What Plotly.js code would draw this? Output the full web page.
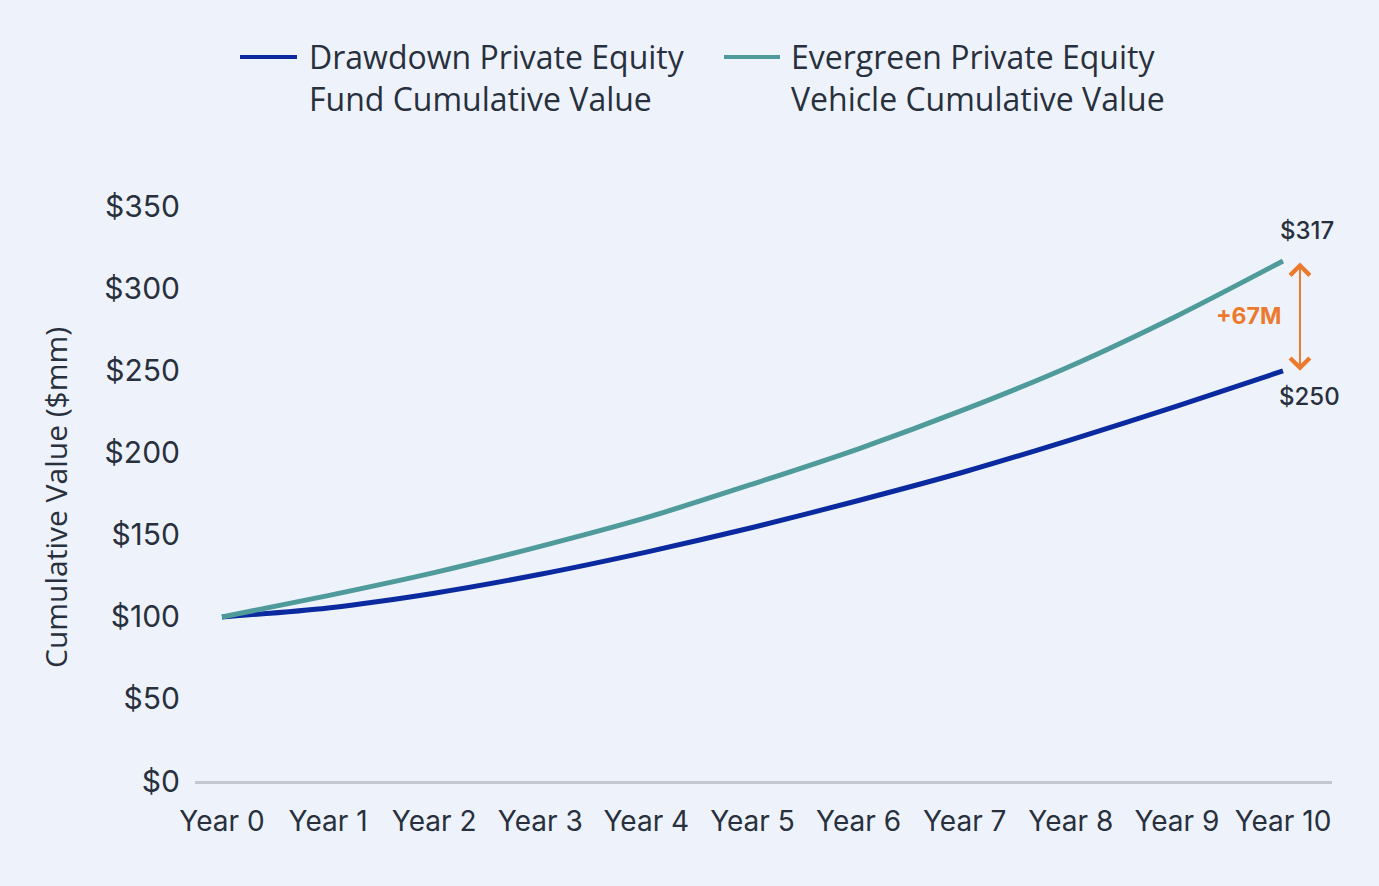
<!DOCTYPE html>
<html>
<head>
<meta charset="utf-8">
<script src="https://cdn.plot.ly/plotly-3.0.1.min.js"></script>
<style>
  html, body { margin: 0; padding: 0; background: #eef3fb; }
  #chart { width: 1379px; height: 886px; }
</style>
</head>
<body>
<div id="chart"></div>
<script>
// ── data ──────────────────────────────────────
const years = ['Year 0', 'Year 1', 'Year 2', 'Year 3', 'Year 4', 'Year 5',
               'Year 6', 'Year 7', 'Year 8', 'Year 9', 'Year 10'];
const drawdown = [100, 105.5, 114.5, 126, 139.5, 154.5, 171, 188.5, 208, 228.5, 250];
const evergreen = [100, 113, 127, 143, 160.5, 181, 202.5, 226.5, 253, 283.5, 317];
const seriesNames = [
    'Drawdown Private Equity<br>Fund Cumulative Value',
    'Evergreen Private Equity<br>Vehicle Cumulative Value',
];
const yTicks = [0, 50, 100, 150, 200, 250, 300, 350];

const COLORS = { blue: '#0b2a9f', teal: '#4f9b9b', orange: '#ec7a2e', text: '#28303d', axis: '#c3c7cf', bg: '#eef3fb' };
const idx = years.map((_, i) => i);
const last = years.length - 1;

const traces = [
    { x: idx, y: drawdown, name: seriesNames[0], type: 'scatter', mode: 'lines',
      line: { color: COLORS.blue, width: 5, shape: 'spline', smoothing: 0.8 } },
    { x: idx, y: evergreen, name: seriesNames[1], type: 'scatter', mode: 'lines',
      line: { color: COLORS.teal, width: 5, shape: 'spline', smoothing: 0.8 } },
];

// plot box in px (used for the hand-built legend and axis title)
const L = 195, R = 47, T = 174, B = 105, W = 1379, H = 886;
const px = x => (x - L) / (W - L - R);
const py = y => (H - B - y) / (H - B - T);

const legendItems = [
    { x0: 240, x1: 297, tx: 307, color: COLORS.blue, text: seriesNames[0] },
    { x0: 724, x1: 780, tx: 789, color: COLORS.teal, text: seriesNames[1] },
];

const shapes = legendItems.map(it => ({
    type: 'line', xref: 'paper', yref: 'paper',
    x0: px(it.x0), x1: px(it.x1), y0: py(57), y1: py(57),
    line: { color: it.color, width: 4 },
}));

const annotations = legendItems.map(it => ({
    xref: 'paper', yref: 'paper', x: px(it.tx), y: py(77), xanchor: 'left', yanchor: 'middle',
    align: 'left', showarrow: false, text: it.text,
    font: { family: 'Open Sans, sans-serif', size: 32, color: COLORS.text },
}));

// y axis title, placed by hand so it sits where the reference has it
annotations.push({
    xref: 'paper', yref: 'paper', x: px(55), y: py(498), xanchor: 'center', yanchor: 'middle',
    textangle: -90, showarrow: false, text: 'Cumulative Value ($mm)',
    font: { family: 'Open Sans, sans-serif', size: 30, color: COLORS.text },
});

// end labels
const endFont = { family: 'Inter, sans-serif', size: 24, weight: 500, color: COLORS.text };
annotations.push(
    { x: last, y: evergreen[last], text: '$' + evergreen[last], showarrow: false,
      xshift: 24, yshift: 30, font: endFont },
    { x: last, y: drawdown[last], text: '$' + drawdown[last], showarrow: false,
      xshift: 27, yshift: -26, font: endFont },
    // gap arrow
    { x: last + 0.16, y: drawdown[last], ax: last + 0.16, ay: evergreen[last], xref: 'x', yref: 'y',
      axref: 'x', ayref: 'y', text: '', showarrow: true, arrowhead: 4, startarrowhead: 4,
      arrowside: 'end+start', arrowsize: 1.9, startarrowsize: 1.9, arrowwidth: 2, arrowcolor: COLORS.orange },
    { x: last, y: (drawdown[last] + evergreen[last]) / 2, xanchor: 'right', showarrow: false,
      text: '<b>+' + (evergreen[last] - drawdown[last]) + 'M</b>',
      font: { family: 'Inter, sans-serif', size: 23, color: COLORS.orange } },
);

const layout = {
    width: W, height: H,
    margin: { l: L, r: R, t: T, b: B },
    paper_bgcolor: COLORS.bg, plot_bgcolor: COLORS.bg,
    showlegend: false,
    font: { family: 'Inter, sans-serif', color: COLORS.text },
    xaxis: {
        range: [-0.254, 10.462], tickvals: idx, ticktext: years,
        showgrid: false, zeroline: false, showline: true, linecolor: COLORS.axis, linewidth: 2.5,
        ticks: '', ticklabelstandoff: 14, tickfont: { size: 28, color: COLORS.text },
        fixedrange: true,
    },
    yaxis: {
        range: [0, 370], tickvals: yTicks, ticktext: yTicks.map(v => '$' + v),
        showgrid: false, zeroline: false, showline: false,
        ticks: '', ticklabelstandoff: 14, tickfont: { size: 30, color: COLORS.text },
        automargin: false, fixedrange: true,
    },
    shapes: shapes,
    annotations: annotations,
};

Plotly.newPlot('chart', traces, layout, { displayModeBar: false, staticPlot: true });
</script>
</body>
</html>
